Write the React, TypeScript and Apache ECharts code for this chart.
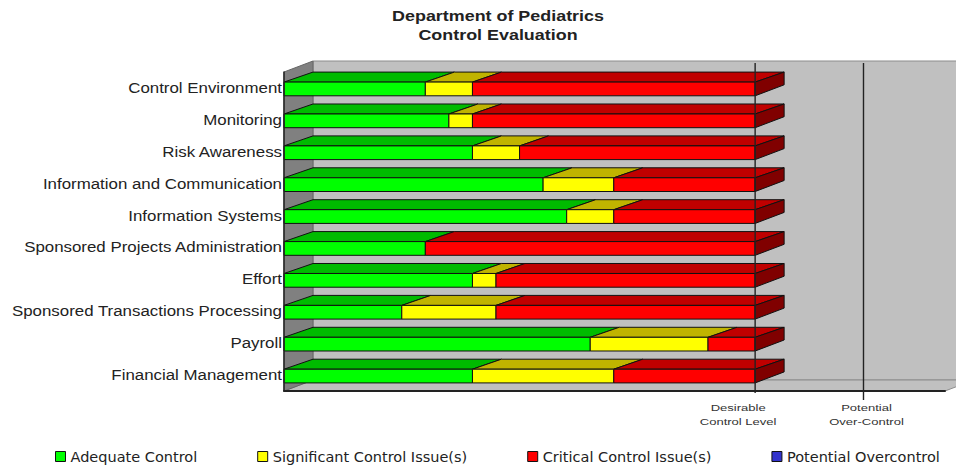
import React, { useEffect, useRef } from "react";
import * as echarts from "echarts";

const titleLines = ["Department of Pediatrics", "Control Evaluation"];
const categories = [
  "Control Environment",
  "Monitoring",
  "Risk Awareness",
  "Information and Communication",
  "Information Systems",
  "Sponsored Projects Administration",
  "Effort",
  "Sponsored Transactions Processing",
  "Payroll",
  "Financial Management",
];
const adequate = [3, 3.5, 4, 5.5, 6, 3, 4, 2.5, 6.5, 4];
const significant = [1, 0.5, 1, 1.5, 1, 0, 0.5, 2, 2.5, 3];
const critical = [6, 6, 5, 3, 3, 7, 5.5, 5.5, 1, 3];
const overcontrol = [0, 0, 0, 0, 0, 0, 0, 0, 0, 0];
const axisMax = 14.03;
const refLevels = [10, 12.3];
const refLabels = ["Desirable\nControl Level", "Potential\nOver-Control"];
const refLabelOffsets = [-17, 3];
const refLineEnds = [2, 9];
const seriesNames = [
  "Adequate Control",
  "Significant Control Issue(s)",
  "Critical Control Issue(s)",
  "Potential Overcontrol",
];
const frontColors = ["#00ff00", "#ffff00", "#ff0000", "#3333cc"];
const topColors = ["#00bb00", "#c0b400", "#c00000", "#222299"];
const sideColors = ["#008000", "#808000", "#800000", "#111166"];
const DX = 29;
const DY = 11;
const FONT = "Liberation Sans";
const LEGEND_FONT = "DejaVu Sans";
const LABEL_SCALE = 1.205;
const TITLE_SCALE = 1.28;
const REF_SCALE = 1.45;

export default function App() {
  const ref = useRef<HTMLDivElement>(null);
  useEffect(() => {
    const chart = echarts.init(ref.current!, undefined, { renderer: "svg" });

    const levels = [adequate, significant, critical, overcontrol];
    const barSeries = levels.map((vals, li) => ({
      type: "custom",
      name: seriesNames[li],
      coordinateSystem: "cartesian2d",
      z: 3,
      itemStyle: { color: frontColors[li] },
      encode: { x: [0, 1], y: 2 },
      data: vals.map((v, i) => {
        let start = 0;
        for (let k = 0; k < li; k++) start += levels[k][i];
        const isLast = v > 0 && levels.slice(li + 1).every((a) => a[i] === 0);
        return [start, start + v, i, isLast ? 1 : 0];
      }),
      renderItem: (params: any, api: any) => {
        const x0 = api.value(0);
        const x1 = api.value(1);
        if (x1 <= x0) return null;
        const idx = api.value(2);
        const a = api.coord([x0, idx]);
        const b = api.coord([x1, idx]);
        const h = api.size([0, 1])[1] * 0.43;
        const top = a[1] - h / 2 + 1;
        const bot = a[1] + h / 2 + 1;
        const stroke = { stroke: "#111", lineWidth: 1 };
        const children: any[] = [
          {
            type: "polygon",
            shape: {
              points: [
                [a[0], top],
                [a[0] + DX, top - DY + 1],
                [b[0] + DX, top - DY + 1],
                [b[0], top],
              ],
            },
            style: { fill: topColors[li], ...stroke },
          },
          {
            type: "rect",
            shape: { x: a[0], y: top, width: b[0] - a[0], height: bot - top },
            style: { fill: frontColors[li], ...stroke },
          },
        ];
        if (api.value(3)) {
          children.push({
            type: "polygon",
            shape: {
              points: [
                [b[0], top],
                [b[0] + DX, top - DY + 1],
                [b[0] + DX, bot - DY],
                [b[0], bot],
              ],
            },
            style: { fill: sideColors[li], ...stroke },
          });
        }
        return { type: "group", children };
      },
    }));

    const walls = {
      type: "custom",
      coordinateSystem: "cartesian2d",
      z: 1,
      silent: true,
      encode: { x: 0, y: 1 },
      data: [[0, 0]],
      clip: false,
      renderItem: (params: any) => {
        const c = params.coordSys;
        const l = c.x;
        const r = c.x + c.width;
        const t = c.y;
        const b = c.y + c.height;
        return {
          type: "group",
          children: [
            {
              type: "rect",
              shape: { x: l + DX, y: t - DY, width: r - l, height: b - t },
              style: { fill: "#c0c0c0", stroke: "#8c8c8c", lineWidth: 1 },
            },
            {
              type: "polygon",
              shape: {
                points: [
                  [l, b],
                  [l + DX, b - DY],
                  [r + DX, b - DY],
                  [r, b],
                ],
              },
              style: { fill: "#c0c0c0", stroke: "#8c8c8c", lineWidth: 1 },
            },
            {
              type: "polygon",
              shape: {
                points: [
                  [l, t],
                  [l + DX, t - DY],
                  [l + DX, b - DY],
                  [l, b],
                ],
              },
              style: { fill: "#808080", stroke: "#666", lineWidth: 1 },
            },
          ],
        };
      },
    };

    const labels = {
      type: "custom",
      coordinateSystem: "cartesian2d",
      z: 4,
      silent: true,
      clip: false,
      encode: { x: 0, y: 1 },
      data: categories.map((_, i) => [0, i]),
      renderItem: (params: any, api: any) => {
        const p = api.coord([0, api.value(1)]);
        return {
          type: "text",
          x: p[0] - 2,
          y: p[1],
          scaleX: LABEL_SCALE,
          style: {
            text: categories[api.value(1)],
            x: 0,
            y: 0,
            textAlign: "right",
            textVerticalAlign: "middle",
            font: `14px '${FONT}'`,
            fill: "#222",
          },
        };
      },
    };

    const refs = {
      type: "custom",
      coordinateSystem: "cartesian2d",
      z: 5,
      silent: true,
      clip: false,
      encode: { x: 0, y: 1 },
      data: refLevels.map((v, i) => [v, 0, i]),
      renderItem: (params: any, api: any) => {
        const i = api.value(2);
        const c = params.coordSys;
        const x = api.coord([api.value(0), 0])[0];
        const b = c.y + c.height;
        return {
          type: "group",
          children: [
            {
              type: "line",
              shape: { x1: x, y1: c.y - 9, x2: x, y2: b + refLineEnds[i] },
              style: { stroke: "#222", lineWidth: 1.4 },
            },
            {
              type: "text",
              x: x + refLabelOffsets[i],
              y: b + 10,
              scaleX: REF_SCALE,
              style: {
                text: refLabels[i],
                x: 0,
                y: 0,
                textAlign: "center",
                textVerticalAlign: "top",
                font: `9px '${FONT}'`,
                lineHeight: 14,
                fill: "#333",
              },
            },
          ],
        };
      },
    };

    chart.setOption({
      animation: false,
      backgroundColor: "#ffffff",
      graphic: titleLines.map((line, i) => ({
        type: "text",
        x: 498,
        y: 16 + i * 19,
        scaleX: TITLE_SCALE,
        style: {
          text: line,
          x: 0,
          y: 0,
          textAlign: "center",
          textVerticalAlign: "middle",
          font: `bold 14px '${FONT}'`,
          fill: "#222",
        },
      })),
      grid: { left: 284, right: 11, top: 72, bottom: 74 },
      xAxis: {
        type: "value",
        min: 0,
        max: axisMax,
        z: 6,
        splitLine: { show: false },
        axisTick: { show: false },
        axisLabel: { show: false },
        axisLine: { show: true, lineStyle: { color: "#222", width: 2 } },
      },
      yAxis: {
        type: "category",
        inverse: true,
        data: categories,
        z: 6,
        axisTick: { show: false },
        axisLine: { show: true, lineStyle: { color: "#222", width: 1.5 } },
        axisLabel: { show: false },
      },
      legend: {
        data: seriesNames,
        left: 55,
        top: 449,
        itemWidth: 10,
        itemHeight: 10,
        itemGap: 60,
        icon: "rect",
        itemStyle: { borderColor: "#111", borderWidth: 1 },
        textStyle: { fontFamily: LEGEND_FONT, fontSize: 14.5, color: "#222" },
        selectedMode: false,
        padding: 0,
      },
      series: [walls, ...barSeries, refs, labels],
    });
    return () => chart.dispose();
  }, []);
  return (
    <div
      ref={ref}
      style={{ position: "absolute", left: 0, top: 0, width: 956, height: 465 }}
    />
  );
}
